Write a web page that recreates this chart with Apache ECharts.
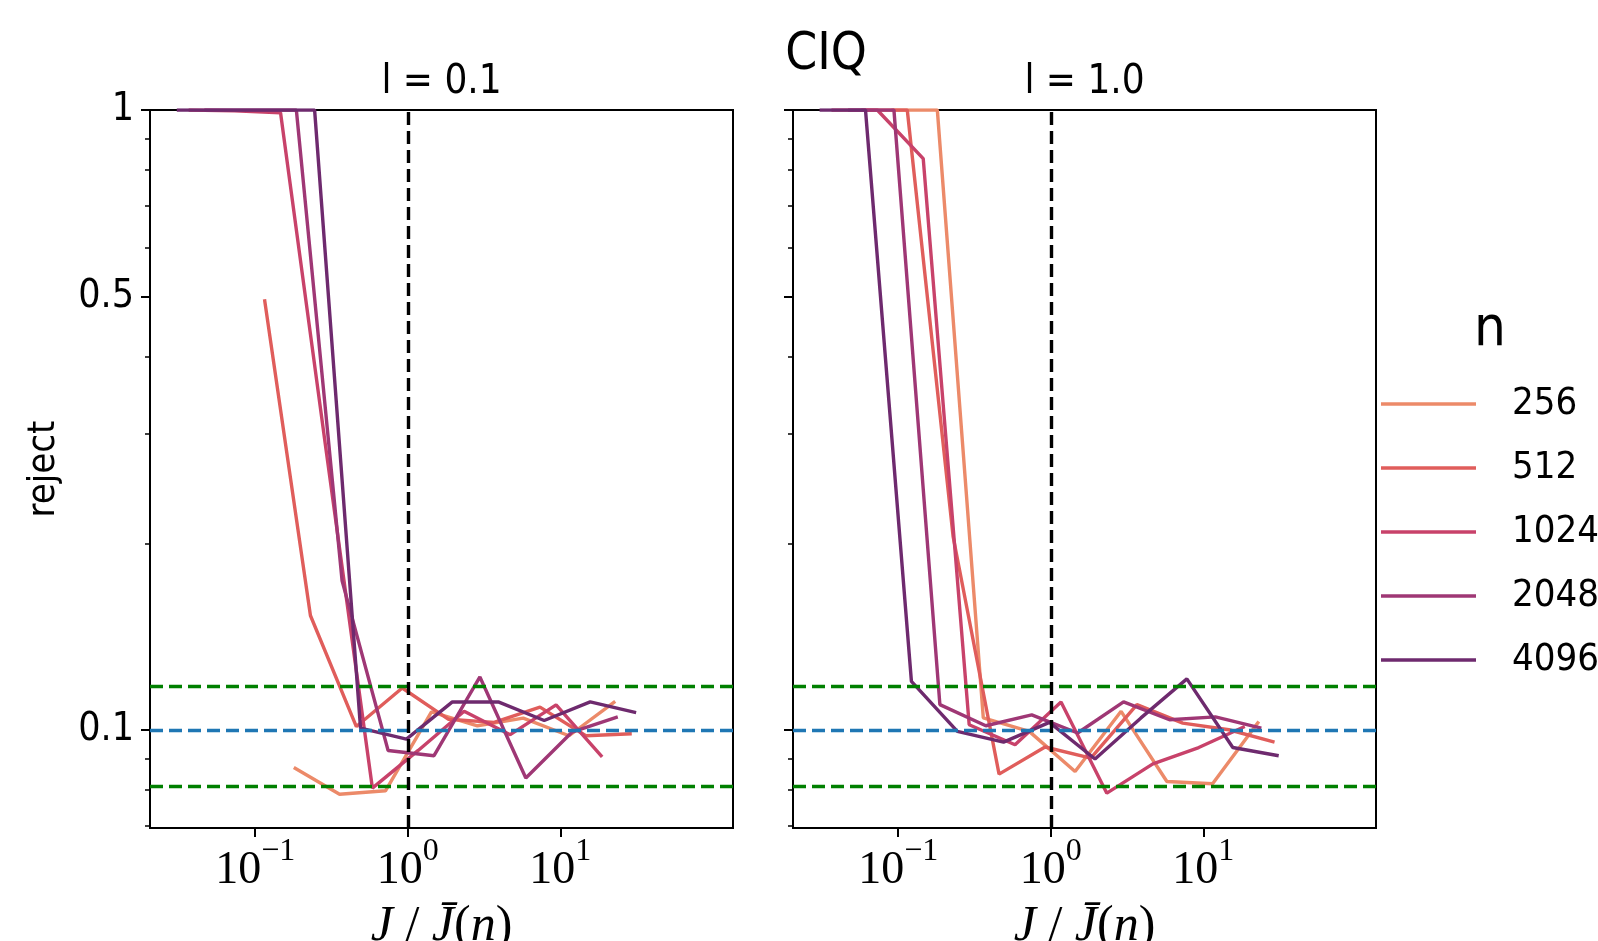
<!DOCTYPE html>
<html>
<head>
<meta charset="utf-8">
<script src="https://cdn.jsdelivr.net/npm/echarts@6/dist/echarts.min.js"></script>
<style>
  html, body { margin: 0; padding: 0; background: #ffffff; }
  #chart { width: 1598px; height: 941px; }
</style>
</head>
<body>
<div id="chart"></div>
<script>
// ---- series labels and colours ----
const nLabels = ['256', '512', '1024', '2048', '4096'];
const lineColors = ['#ec8a69', '#e05d5b', '#c8426a', '#9f3775', '#6e2a6e'];

// ---- panel "l = 0.1": J / Jbar(n) and reject rate per n ----
const xA256 = [0.179, 0.357, 0.714, 1.43, 2.86, 5.71, 11.4, 22.9];
const yA256 = [0.087, 0.0788, 0.0798, 0.107, 0.1016, 0.1045, 0.0979, 0.1112];
const xA512 = [0.115, 0.23, 0.46, 0.92, 1.84, 3.68, 7.36, 14.7, 29.4];
const yA512 = [0.495, 0.153, 0.1013, 0.1169, 0.1041, 0.1029, 0.1089, 0.0979, 0.0986];
const xA1024 = [0.0366, 0.0732, 0.1465, 0.293, 0.586, 1.17, 2.34, 4.69, 9.38, 18.8];
const yA1024 = [1, 0.997, 0.99, 0.28, 0.0806, 0.0927, 0.1072, 0.0983, 0.1098, 0.0905];
const xA2048 = [0.0464, 0.0929, 0.186, 0.371, 0.743, 1.486, 2.97, 5.94, 11.9, 23.8];
const yA2048 = [1, 1, 1, 0.174, 0.0927, 0.0909, 0.1218, 0.0837, 0.0992, 0.105];
const xA4096 = [0.0306, 0.0613, 0.1225, 0.245, 0.49, 0.98, 1.96, 3.92, 7.84, 15.7, 31.4];
const yA4096 = [1, 1, 1, 1, 0.1007, 0.0967, 0.111, 0.111, 0.1036, 0.111, 0.1067];

// ---- panel "l = 1.0" ----
const xB256 = [0.0902, 0.1804, 0.361, 0.722, 1.443, 2.89, 5.77, 11.5, 23.1];
const yB256 = [1, 1, 0.1046, 0.0995, 0.0857, 0.1072, 0.0826, 0.0819, 0.1032];
const xB512 = [0.0573, 0.1146, 0.229, 0.458, 0.917, 1.83, 3.67, 7.33, 14.7, 29.3];
const yB512 = [1, 1, 0.205, 0.0849, 0.0939, 0.0901, 0.1099, 0.1026, 0.1001, 0.0956];
const xB1024 = [0.0365, 0.0729, 0.1458, 0.2917, 0.583, 1.167, 2.33, 4.67, 9.33, 18.7];
const yB1024 = [1, 1, 0.835, 0.102, 0.0947, 0.111, 0.0791, 0.0882, 0.0937, 0.1013];
const xB2048 = [0.0469, 0.0937, 0.1875, 0.375, 0.75, 1.5, 3.0, 6.0, 12, 24];
const yB2048 = [1, 1, 0.1099, 0.1016, 0.1058, 0.0989, 0.111, 0.1039, 0.105, 0.1007];
const xB4096 = [0.0305, 0.061, 0.122, 0.244, 0.49, 0.98, 1.95, 3.9, 7.8, 15.6, 31.2];
const yB4096 = [1, 1, 0.1198, 0.0995, 0.0956, 0.1029, 0.0898, 0.1046, 0.1209, 0.0937, 0.0909];

// ---- reference levels ----
const nominalLevel = 0.1;
const bandUpper = 0.1186;
const bandLower = 0.0814;
const thresholdX = 1;

// ---- axes: ranges and ticks (log scales) ----
const xRange = [0.02042, 135.5];
const yRange = [0.0695, 1];
const xTickValues = [0.1, 1, 10];
const yTickValues = [1, 0.5, 0.1];
const yMinorTickValues = [0.07, 0.08, 0.09, 0.2, 0.3, 0.4, 0.6, 0.7, 0.8, 0.9];

const panelTitles = ['l = 0.1', 'l = 1.0'];
const figureTitle = 'CIQ';
const legendTitle = 'n';
const yName = 'reject';

const lg = Math.log10;
const SANS = "'Liberation Sans Narrow', 'DejaVu Sans Condensed', 'Liberation Sans', sans-serif";
const SERIF = "'Liberation Serif', 'DejaVu Serif', serif";
const DATA_W = 3.4;
const REF_W = 3.4;

const panels = [
  { xs: [xA256, xA512, xA1024, xA2048, xA4096], ys: [yA256, yA512, yA1024, yA2048, yA4096] },
  { xs: [xB256, xB512, xB1024, xB2048, xB4096], ys: [yB256, yB512, yB1024, yB2048, yB4096] }
];

const gridLefts = [150, 793];
const gridTop = 110;
const gridW = 583;
const gridH = 718;

const grids = gridLefts.map(l => ({
  left: l, top: gridTop, width: gridW, height: gridH,
  outerBoundsMode: 'none', containLabel: false,
  show: true, borderColor: '#000', borderWidth: 2, backgroundColor: 'transparent'
}));

const xAxes = gridLefts.map((l, gi) => ({
  type: 'value', gridIndex: gi, position: 'bottom',
  min: lg(xRange[0]), max: lg(xRange[1]),
  axisLine: { show: true, onZero: false, lineStyle: { color: '#000', width: 2 } },
  axisTick: { show: true, length: 9, customValues: xTickValues.map(lg), lineStyle: { color: '#000', width: 2 } },
  axisLabel: {
    customValues: xTickValues.map(lg),
    margin: 8,
    formatter: v => {
      const e = Math.round(v);
      return '{b|10}{s|' + (e < 0 ? '\u2212' : '') + Math.abs(e) + '}';
    },
    rich: {
      b: { fontFamily: SERIF, fontSize: 46, color: '#000', lineHeight: 58, verticalAlign: 'bottom' },
      s: { fontFamily: SERIF, fontSize: 32, color: '#000', lineHeight: 58, verticalAlign: 'top' }
    }
  },
  splitLine: { show: false },
  name: '{i|J}{r| / }{i|J\u0304}{r|(}{i|n}{r|)}',
  nameLocation: 'middle',
  nameGap: 74,
  nameTextStyle: {
    rich: {
      i: { fontFamily: SERIF, fontStyle: 'italic', fontSize: 50, color: '#000' },
      r: { fontFamily: SERIF, fontSize: 50, color: '#000' }
    }
  }
}));

const yAxes = [];
gridLefts.forEach((l, gi) => {
  yAxes.push({
    type: 'value', gridIndex: gi, position: 'left',
    min: lg(yRange[0]), max: lg(yRange[1]),
    axisLine: { show: true, onZero: false, lineStyle: { color: '#000', width: 2 } },
    axisTick: { show: true, length: 9, customValues: yTickValues.map(lg), lineStyle: { color: '#000', width: 2 } },
    axisLabel: {
      show: gi === 0,
      customValues: yTickValues.map(lg),
      margin: 16,
      fontFamily: SANS, fontSize: 39, color: '#000',
      formatter: v => String(+Math.pow(10, v).toPrecision(2))
    },
    splitLine: { show: false },
    name: gi === 0 ? yName : '',
    nameLocation: 'middle',
    nameGap: 87,
    nameRotate: 90,
    nameTextStyle: { fontFamily: SANS, fontSize: 38, color: '#000' }
  });
  yAxes.push({
    type: 'value', gridIndex: gi, position: 'left',
    min: lg(yRange[0]), max: lg(yRange[1]),
    axisLine: { show: false, onZero: false },
    axisTick: { show: true, length: 5, customValues: yMinorTickValues.map(lg), lineStyle: { color: '#000', width: 1.5 } },
    axisLabel: { show: false },
    splitLine: { show: false }
  });
});

const series = [];
panels.forEach((p, gi) => {
  nLabels.forEach((name, k) => {
    series.push({
      type: 'line', name: name,
      xAxisIndex: gi, yAxisIndex: gi * 2,
      data: p.xs[k].map((x, i) => [lg(x), lg(p.ys[k][i])]),
      symbol: 'none', showSymbol: false, silent: true,
      lineStyle: { color: lineColors[k], width: DATA_W },
      itemStyle: { color: lineColors[k] },
      z: 2
    });
  });
  series.push({
    type: 'line', name: 'ref' + gi,
    xAxisIndex: gi, yAxisIndex: gi * 2,
    data: [], silent: true, z: 5,
    markLine: {
      symbol: 'none', silent: true, animation: false,
      label: { show: false },
      data: [
        { yAxis: lg(bandUpper), lineStyle: { color: '#008000', width: REF_W, type: [13, 6] } },
        { yAxis: lg(bandLower), lineStyle: { color: '#008000', width: REF_W, type: [13, 6] } },
        { yAxis: lg(nominalLevel), lineStyle: { color: '#1f77b4', width: REF_W, type: [13, 6] } },
        { xAxis: lg(thresholdX), lineStyle: { color: '#000', width: REF_W, type: [13, 6] } }
      ]
    }
  });
});

const texts = [
  { text: figureTitle, x: 826, y: 56, size: 51 },
  { text: panelTitles[0], x: 150 + gridW / 2, y: 83, size: 40 },
  { text: panelTitles[1], x: 793 + gridW / 2, y: 83, size: 40 },
  { text: legendTitle, x: 1490, y: 330, size: 56 }
];

const chart = echarts.init(document.getElementById('chart'), null, { renderer: 'canvas' });
chart.setOption({
  animation: false,
  backgroundColor: '#ffffff',
  grid: grids,
  xAxis: xAxes,
  yAxis: yAxes,
  legend: {
    data: nLabels.map(n => ({ name: n, icon: 'rect' })),
    orient: 'vertical',
    left: 1381, top: 382,
    padding: 0,
    itemWidth: 95, itemHeight: 3.5, itemGap: 20,
    selectedMode: false,
    textStyle: { fontFamily: SANS, fontSize: 38, color: '#000', lineHeight: 44, padding: [0, 0, 0, 31] }
  },
  graphic: texts.map(t => ({
    type: 'text', x: t.x, y: t.y, silent: true,
    style: { text: t.text, fontFamily: SANS, fontSize: t.size, fill: '#000', align: 'center', verticalAlign: 'middle' }
  })),
  series: series
});
</script>
</body>
</html>
